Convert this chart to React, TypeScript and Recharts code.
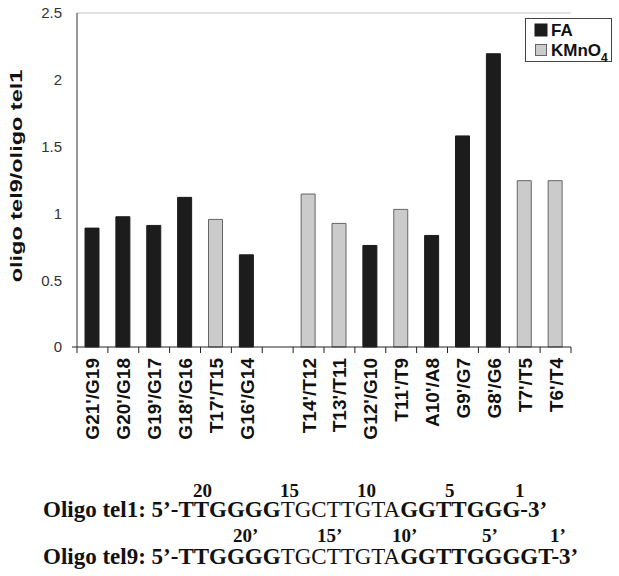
import React from 'react';
import { BarChart, Bar, XAxis, YAxis, Cell, ReferenceLine } from 'recharts';

// values (ratio oligo tel9 / oligo tel1 per position)
const categories = ["G21'/G19", "G20'/G18", "G19'/G17", "G18'/G16", "T17'/T15", "G16'/G14", '', "T14'/T12", "T13'/T11", "G12'/G10", "T11'/T9", "A10'/A8", "G9'/G7", "G8'/G6", "T7'/T5", "T6'/T4"];
const ratios = [0.89, 0.975, 0.91, 1.12, 0.955, 0.69, null, 1.145, 0.925, 0.76, 1.03, 0.835, 1.58, 2.195, 1.245, 1.245];
const methods = ['FA', 'FA', 'FA', 'FA', 'KMnO4', 'FA', '', 'KMnO4', 'KMnO4', 'FA', 'KMnO4', 'FA', 'FA', 'FA', 'KMnO4', 'KMnO4'];
const yTicks = [0, 0.5, 1, 1.5, 2, 2.5];

const tel1Numbers = ['20', '15', '10', '5', '1'];
const tel9Numbers = ['20’', '15’', '10’', '5’', '1’'];

const W = 619, H = 576;
const PLOT_L = 77, PLOT_R = 571;
const band = (PLOT_R - PLOT_L) / categories.length;
const DARK = '#1c1c1c', LIGHT = '#cbcbcb';
const fillFor: Record<string, string> = { FA: DARK, KMnO4: LIGHT };
const sans = '"Liberation Sans", Arial, sans-serif';
const serif = '"Liberation Serif", "Times New Roman", serif';

const data = categories.map((name, i) => ({ name, ratio: ratios[i], method: methods[i] }));

// x positions of the position numbers above each sequence
const tel1NumX = [193, 280, 357, 445, 515];
const tel9NumX = [233, 317, 392, 482, 550];

function XTick({ x, y, payload, index }: any) {
  return (
    <g>
      {index === 0 && <line x1={x - band / 2} x2={x - band / 2} y1={y} y2={y + 6} stroke="#222" />}
      <line x1={x + band / 2} x2={x + band / 2} y1={y} y2={y + 6} stroke="#222" />
      {payload.value && (
        <text transform={`translate(${x + 7},${y + 11}) rotate(-90)`} textAnchor="end"
          fontFamily={sans} fontWeight="bold" fontSize={19} fill="#111">{payload.value}</text>
      )}
    </g>
  );
}

function YTick({ x, y, payload }: any) {
  return (
    <g>
      {payload.value === 0 && <line x1={x + 10} x2={x + 15} y1={y} y2={y} stroke="#222" />}
      <text x={x} y={y} dy="0.36em" textAnchor="end" fontFamily={sans} fontSize={15} fill="#333">{payload.value}</text>
    </g>
  );
}

export default function App() {
  return (
    <div style={{ position: 'fixed', left: 0, top: 0, width: W, height: H, background: '#fff' }}>
      <BarChart width={W} height={H} data={data} margin={{ top: 13, right: W - PLOT_R, left: PLOT_L - 60, bottom: 129 }}>
        <XAxis dataKey="name" height={100} interval={0} tickLine={false} tickSize={0} tickMargin={0}
          axisLine={{ stroke: '#222' }} tick={<XTick />} />
        <YAxis width={60} domain={[0, 2.5]} ticks={yTicks} tickLine={false} tickSize={0} tickMargin={15}
          axisLine={{ stroke: '#333' }} tick={<YTick />} />
        <YAxis yAxisId="right" orientation="right" width={0} domain={[0, 2.5]} tick={false} tickLine={false}
          axisLine={{ stroke: '#c4c4c4' }} />
        <ReferenceLine y={2.5} stroke="#c4c4c4" />
        <Bar dataKey="ratio" barSize={14} isAnimationActive={false}>
          {data.map((d, i) => (
            <Cell key={i} fill={fillFor[d.method] || DARK} stroke={d.method === 'KMnO4' ? '#666' : DARK} strokeWidth={1} />
          ))}
        </Bar>
      </BarChart>
      <svg width={W} height={H} style={{ position: 'absolute', left: 0, top: 0, pointerEvents: 'none' }}>
        {/* y axis title */}
        <text transform="translate(21.5,176) rotate(-90) scale(1,0.7)" textAnchor="middle"
          fontFamily={sans} fontWeight="bold" fontSize={23.5} fill="#111">oligo tel9/oligo tel1</text>
        {/* legend */}
        <rect x={525.5} y={18.5} width={86} height={43} fill="#fff" stroke="#444" />
        <rect x={535} y={24} width={12} height={12} fill={DARK} stroke={DARK} />
        <text x={551} y={36} fontFamily={sans} fontWeight="bold" fontSize={17} fill="#111">FA</text>
        <rect x={535.5} y={44.5} width={11} height={11} fill={LIGHT} stroke="#666" />
        <text x={551} y={56} fontFamily={sans} fontWeight="bold" fontSize={17} fill="#111">
          KMnO<tspan fontSize={12} dy={6}>4</tspan>
        </text>
        {/* sequences */}
        {tel1Numbers.map((n, i) => (
          <text key={'a' + i} x={tel1NumX[i]} y={497} fontFamily={serif} fontWeight="bold" fontSize={19} fill="#111">{n}</text>
        ))}
        <text x={43} y={517} fontFamily={serif} fontSize={23} fill="#111">
          <tspan fontWeight="bold">Oligo tel1: 5’-TTGGGG</tspan>
          <tspan>TGCTTGTA</tspan>
          <tspan fontWeight="bold">GGTTGGG-3’</tspan>
        </text>
        {tel9Numbers.map((n, i) => (
          <text key={'b' + i} x={tel9NumX[i]} y={542} fontFamily={serif} fontWeight="bold" fontSize={19} fill="#111">{n}</text>
        ))}
        <text x={43} y={564} fontFamily={serif} fontSize={23} fill="#111">
          <tspan fontWeight="bold">Oligo tel9: 5’-TTGGGG</tspan>
          <tspan>TGCTTGTA</tspan>
          <tspan fontWeight="bold">GGTTGGGGT-3’</tspan>
        </text>
      </svg>
    </div>
  );
}
